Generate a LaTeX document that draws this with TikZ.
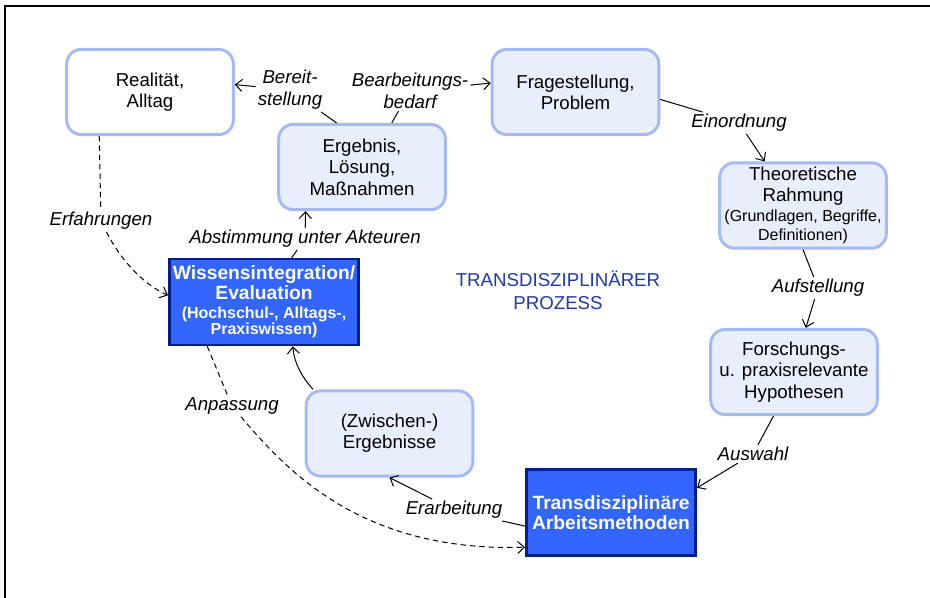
\documentclass[tikz,border=0pt]{standalone}
\usepackage{fontspec}
\setmainfont{Liberation Sans}
\usetikzlibrary{arrows.meta}
\definecolor{boxline}{RGB}{164,186,246}
\definecolor{boxfill}{RGB}{232,238,252}
\definecolor{darkfill}{RGB}{51,102,255}
\definecolor{darkline}{RGB}{0,30,140}
\definecolor{titleblue}{RGB}{32,56,170}

\begin{document}
\begin{tikzpicture}[x=0.75pt, y=-0.75pt,
    box/.style={draw=boxline, line width=2.2pt, rounded corners=11pt, fill=boxfill,
                minimum width=125pt, minimum height=64pt, align=center, inner sep=1pt,
                font=\fontsize{14}{16}\selectfont},
    darkbox/.style={draw=darkline, line width=2pt, fill=darkfill, text=white,
                minimum height=64.5pt, align=center, inner sep=1pt,
                font=\bfseries\fontsize{14.4}{15}\selectfont},
    lbl/.style={font=\itshape\fontsize{14}{16.5}\selectfont, align=center, inner sep=1.5pt},
    arrow/.style={-{Straight Barb[length=5pt,width=9pt]}, line width=0.75pt},
    dasharrow/.style={arrow, dash pattern=on 4pt off 3pt}
]
\useasboundingbox (0,0) rectangle (930,598);

% Frame
\draw[line width=1pt] (5,598) -- (5,6) -- (930,6);

% Nodes
\node[box, fill=white] (real) at (150,92) {Realit\"at,\\Alltag};
\node[box] (erg) at (362,167) {Ergebnis,\\L\"osung,\\Ma\ss nahmen};
\node[box] (frage) at (575.5,92) {Fragestellung,\\Problem};
\node[box] (theo) at (803,205.5) {Theoretische\\Rahmung\\[-1pt]
    {\fontsize{12}{14}\selectfont (Grundlagen, Begriffe,}\\[-2pt]
    {\fontsize{12}{14}\selectfont Definitionen)}};
\node[box] (forsch) at (794,372) {Forschungs-\\u. praxisrelevante\\Hypothesen};
\node[box] (zw) at (389.5,433.5) {(Zwischen-)\\Ergebnisse};
\node[darkbox, minimum width=127pt] (trans) at (611,512.5) {Transdisziplin\"are\\Arbeitsmethoden};
\node[darkbox, minimum width=142pt] (wis) at (264,302) {Wissensintegration/\\Evaluation\\[-1pt]
    {\fontsize{12}{13}\selectfont (Hochschul-, Alltags-,}\\[-3pt]
    {\fontsize{12}{13}\selectfont Praxiswissen)}};

% Labels
\node[lbl] (lblBereit) at (290,90) {Bereit-\\stellung};
\node[lbl] (lblBedarf) at (410,91) {Bearbeitungs-\\bedarf};
\node[lbl] (lblEinord) at (739,123) {Einordnung};
\node[lbl] (lblAufst) at (818,288) {Aufstellung};
\node[lbl] (lblAuswahl) at (753,454) {Auswahl};
\node[lbl] (lblErarb) at (454,510) {Erarbeitung};
\node[lbl] (lblAbst) at (305,239) {Abstimmung unter Akteuren};
\node[lbl] (lblErfahr) at (101,221) {Erfahrungen};
\node[lbl] (lblAnpass) at (232,406) {Anpassung};
\node[align=center, text=titleblue, font=\fontsize{14}{17}\selectfont] (title) at (558,290.5)
    {TRANSDISZIPLIN\"ARER\\PROZESS};

% Arrows
\draw[arrow] (erg.120) -- (lblBereit) -- (real.5);
\draw[arrow] (erg.56) -- (lblBedarf) -- (frage.174);
\draw[arrow] (frage.-5) -- (lblEinord) -- (theo.131);
\draw[arrow] (theo.south) -- (lblAufst) -- (forsch.75);
\draw[arrow] (forsch.-115) -- (lblAuswahl) -- (trans.16);
\draw[arrow] (trans.189) -- (lblErarb) -- (zw.south);
\draw[arrow] (zw.150) .. controls (301,376) and (294,362) .. (wis.-57);
\draw[arrow] (wis.58) -- (lblAbst) -- (erg.-142);
\draw[dasharrow] (real.-139) -- (lblErfahr) .. controls (118,255) and (140,283) .. (wis.176);
\draw[dasharrow] (wis.-142) -- (lblAnpass) .. controls (290,475) and (365,552) .. (trans.202);

\end{tikzpicture}
\end{document}
